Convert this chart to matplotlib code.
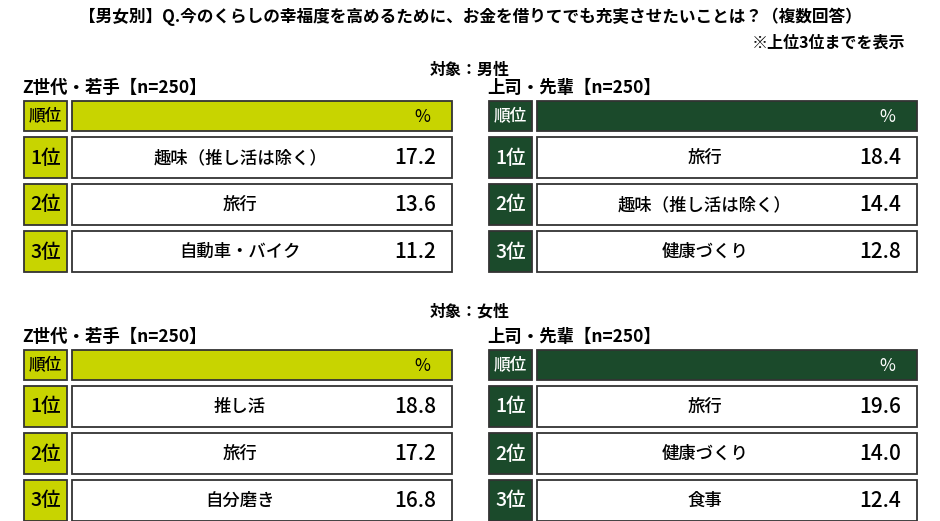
import matplotlib
matplotlib.use("Agg")
import matplotlib.pyplot as plt
from matplotlib.patches import Rectangle

plt.rcParams['font.family'] = ['Noto Sans CJK JP', 'DejaVu Sans']

title = "【男女別】Q.今のくらしの幸福度を高めるために、お金を借りてでも充実させたいことは？（複数回答）"
note = "※上位3位までを表示"
sections = ["対象：男性", "対象：女性"]
groups = ["Z世代・若手【n=250】", "上司・先輩【n=250】"]
ranks = ["1位", "2位", "3位"]
male_gz_items = ["趣味（推し活は除く）", "旅行", "自動車・バイク"]
male_gz_vals = [17.2, 13.6, 11.2]
male_boss_items = ["旅行", "趣味（推し活は除く）", "健康づくり"]
male_boss_vals = [18.4, 14.4, 12.8]
female_gz_items = ["推し活", "旅行", "自分磨き"]
female_gz_vals = [18.8, 17.2, 16.8]
female_boss_items = ["旅行", "健康づくり", "食事"]
female_boss_vals = [19.6, 14.0, 12.4]

LIME = "#C8D400"
DARK = "#1B4A2B"
W, H = 940, 521
fig = plt.figure(figsize=(W/100, H/100), dpi=100)
ax = fig.add_axes([0, 0, 1, 1])
ax.set_xlim(0, W); ax.set_ylim(H, 0); ax.axis('off')

ax.text(470, 17, title, ha='center', va='center', fontsize=12, fontweight='bold')
ax.text(905, 43, note, ha='right', va='center', fontsize=11.5, fontweight='bold')

def panel(x0, ytop, group, items, vals, color, txtc):
    ax.text(x0 - 2, ytop - 13, group, ha='left', va='center', fontsize=12.5, fontweight='bold')
    ax.add_patch(Rectangle((x0, ytop), 43, 30, fc=color, ec='#333333', lw=1.3))
    ax.add_patch(Rectangle((x0 + 48, ytop), 380, 30, fc=color, ec='#333333', lw=1.3))
    ax.text(x0 + 21.5, ytop + 15, "順位", ha='center', va='center', fontsize=12, color=txtc, fontweight='medium')
    ax.text(x0 + 398, ytop + 16, "%", ha='center', va='center', fontsize=12.5, color=txtc)
    for i, (r, it, v) in enumerate(zip(ranks, items, vals)):
        y = ytop + 36 + i * 47
        ax.add_patch(Rectangle((x0, y), 43, 41, fc=color, ec='#333333', lw=1.3))
        ax.add_patch(Rectangle((x0 + 48, y), 380, 41, fc='white', ec='#333333', lw=1.3))
        ax.text(x0 + 21.5, y + 21, r, ha='center', va='center', fontsize=14, color=txtc, fontweight='medium')
        ax.text(x0 + 216, y + 21, it, ha='center', va='center', fontsize=12.5, fontweight='medium')
        ax.text(x0 + 412, y + 21, f"{v:.1f}", ha='right', va='center', fontsize=15, fontweight='medium')

ax.text(470, 70, sections[0], ha='center', va='center', fontsize=11.5, fontweight='bold')
panel(24, 101, groups[0], male_gz_items, male_gz_vals, LIME, 'black')
panel(489, 101, groups[1], male_boss_items, male_boss_vals, DARK, 'white')
ax.text(470, 312, sections[1], ha='center', va='center', fontsize=11.5, fontweight='bold')
panel(24, 350, groups[0], female_gz_items, female_gz_vals, LIME, 'black')
panel(489, 350, groups[1], female_boss_items, female_boss_vals, DARK, 'white')

fig.savefig("out.png", dpi=100)
